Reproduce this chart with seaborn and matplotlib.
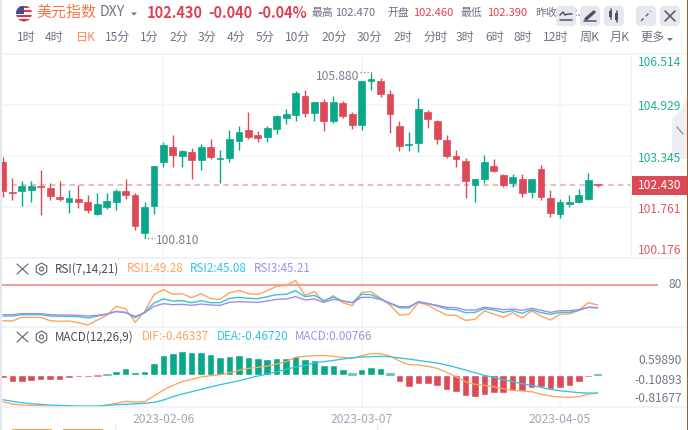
import matplotlib
matplotlib.use('Agg')
import matplotlib.pyplot as plt
import seaborn as sns
from matplotlib.patches import Circle, Rectangle, FancyBboxPatch, Polygon, RegularPolygon

# daily candles
opens = [103.16, 102.23, 102.26, 102.29, 102.41, 102.35, 102.07, 101.92, 102.01, 101.92, 101.54, 101.76, 101.92, 102.26, 102.13, 100.95,
         101.79, 103.16, 103.63, 103.35, 103.47, 103.22, 103.63, 103.25, 103.28, 103.81, 104.15, 104.00, 103.94, 104.18, 104.53, 104.62,
         105.21, 104.68, 105.02, 104.43, 104.99, 104.65, 104.31, 105.67, 105.67, 105.27, 104.28, 103.69, 103.75, 104.71, 104.43, 103.84,
         103.35, 103.19, 102.44, 102.63, 103.03, 102.76, 102.51, 102.63, 102.23, 102.94, 102.04, 101.54, 101.85, 101.92, 102.01, 102.46]
highs = [103.31, 102.66, 102.57, 102.57, 102.91, 102.51, 102.57, 102.29, 102.44, 102.13, 102.20, 102.20, 102.32, 102.63, 102.20, 101.92,
         103.03, 103.78, 104.00, 103.53, 103.59, 103.72, 103.87, 103.53, 104.15, 104.28, 104.71, 104.12, 104.28, 104.62, 104.81, 105.36,
         105.40, 105.02, 105.12, 105.21, 105.05, 104.71, 105.67, 105.88, 105.77, 105.40, 104.43, 104.09, 105.15, 104.77, 104.46, 104.00,
         103.53, 103.28, 102.63, 103.38, 103.25, 102.79, 102.79, 102.79, 102.63, 103.07, 102.29, 102.01, 102.13, 102.32, 102.82, 102.47]
lows = [102.07, 101.98, 101.79, 101.92, 101.51, 101.98, 101.95, 101.58, 101.73, 101.58, 101.51, 101.70, 101.67, 102.01, 101.05, 100.81,
        101.54, 103.00, 103.00, 103.00, 102.63, 102.91, 103.25, 102.51, 103.16, 103.53, 103.87, 103.78, 103.78, 104.03, 104.34, 104.43,
        104.56, 104.43, 104.12, 104.37, 104.53, 104.18, 104.15, 105.40, 105.18, 104.06, 103.50, 103.50, 103.47, 104.22, 103.72, 103.28,
        103.00, 102.04, 101.92, 102.51, 102.85, 102.38, 102.38, 102.07, 102.04, 101.98, 101.45, 101.42, 101.76, 101.89, 101.98, 102.39]
closes = [102.26, 102.21, 102.41, 102.41, 102.38, 102.10, 102.01, 102.04, 101.92, 101.67, 101.85, 101.95, 102.26, 102.13, 101.17, 101.76,
          103.03, 103.69, 103.38, 103.50, 103.22, 103.63, 103.31, 103.28, 103.87, 104.09, 103.94, 103.90, 104.22, 104.59, 104.65, 105.30,
          104.68, 105.02, 104.43, 105.02, 104.59, 104.31, 105.67, 105.74, 105.27, 104.65, 103.66, 103.72, 104.81, 104.49, 103.87, 103.35,
          103.25, 102.57, 102.63, 103.16, 102.88, 102.44, 102.69, 102.20, 102.63, 102.07, 101.57, 101.92, 101.92, 102.13, 102.60, 102.43]

rsi1 = [25.2, 24.7, 30.3, 30.3, 30.3, 25.2, 24.2, 24.7, 22.1, 18.6, 26.2, 33.4, 47.2, 43.6, 22.7, 39.1,
        65.2, 72.8, 65.7, 66.7, 60.5, 66.7, 59.0, 58.0, 68.2, 71.8, 66.7, 65.7, 71.3, 78.0, 79.5, 86.7,
        64.1, 69.8, 54.4, 63.6, 52.9, 48.3, 68.7, 69.8, 59.5, 49.3, 33.9, 35.0, 52.9, 49.3, 41.1, 33.9,
        33.4, 25.7, 27.3, 40.1, 35.5, 30.3, 37.5, 29.3, 40.1, 32.4, 26.2, 35.0, 35.5, 41.1, 52.9, 49.28]
rsi2 = [32.4, 32.4, 34.4, 34.4, 34.4, 32.4, 31.9, 31.9, 31.4, 29.3, 32.4, 35.0, 39.6, 38.0, 29.8, 38.0,
        52.3, 58.5, 55.4, 55.9, 52.9, 55.9, 52.9, 52.9, 59.5, 61.1, 59.5, 59.0, 62.1, 65.2, 65.7, 71.3,
        62.1, 64.1, 55.9, 61.6, 55.4, 52.9, 65.7, 65.2, 59.0, 51.8, 45.2, 44.7, 54.4, 51.8, 47.7, 43.1,
        42.1, 37.5, 38.0, 43.6, 41.6, 38.0, 40.6, 36.5, 42.1, 37.5, 35.0, 38.0, 38.0, 41.1, 45.7, 45.08]
rsi3 = [34.4, 34.4, 36.0, 36.0, 36.0, 34.4, 33.9, 33.9, 33.4, 32.4, 33.4, 35.5, 39.1, 37.5, 31.9, 37.0,
        47.2, 51.3, 49.8, 50.3, 48.8, 50.8, 49.3, 48.8, 53.4, 54.4, 53.9, 53.4, 55.4, 58.0, 58.5, 62.1,
        57.0, 58.5, 53.4, 58.0, 55.4, 52.9, 61.1, 61.1, 57.5, 52.3, 46.7, 46.7, 53.9, 51.3, 48.8, 45.7,
        45.2, 41.6, 41.6, 45.7, 44.2, 42.1, 43.1, 41.1, 44.2, 41.1, 38.0, 40.6, 40.6, 42.1, 45.7, 45.21]

dif = [-0.683, -0.742, -0.767, -0.776, -0.784, -0.801, -0.809, -0.809, -0.818, -0.818, -0.809, -0.767, -0.725, -0.674, -0.691, -0.683,
       -0.540, -0.388, -0.270, -0.177, -0.118, -0.059, -0.025, 0.0, 0.051, 0.110, 0.160, 0.185, 0.219, 0.270, 0.329, 0.438,
       0.464, 0.481, 0.489, 0.464, 0.438, 0.413, 0.481, 0.531, 0.531, 0.472, 0.346, 0.253, 0.244, 0.211, 0.160, 0.059,
       -0.051, -0.177, -0.244, -0.270, -0.303, -0.354, -0.396, -0.413, -0.430, -0.489, -0.540, -0.565, -0.573, -0.556, -0.489, -0.46337]
dea = [-0.632, -0.674, -0.708, -0.733, -0.750, -0.767, -0.776, -0.784, -0.792, -0.792, -0.792, -0.776, -0.759, -0.750, -0.733, -0.725,
       -0.700, -0.641, -0.556, -0.489, -0.430, -0.371, -0.312, -0.253, -0.202, -0.152, -0.093, -0.034, 0.017, 0.076, 0.135, 0.194,
       0.236, 0.303, 0.329, 0.362, 0.396, 0.430, 0.447, 0.455, 0.464, 0.455, 0.422, 0.396, 0.362, 0.329, 0.295, 0.244,
       0.185, 0.118, 0.051, -0.017, -0.067, -0.126, -0.177, -0.228, -0.270, -0.320, -0.371, -0.405, -0.430, -0.455, -0.464, -0.4672]
macd = [-0.09, -0.18, -0.19, -0.17, -0.135, -0.135, -0.126, -0.093, -0.067, -0.067, -0.034, 0.02, 0.10, 0.16, 0.067, 0.10,
        0.287, 0.489, 0.556, 0.60, 0.565, 0.573, 0.514, 0.455, 0.472, 0.489, 0.447, 0.413, 0.396, 0.413, 0.413, 0.464,
        0.405, 0.371, 0.244, 0.236, 0.143, 0.034, 0.143, 0.194, 0.16, 0.034, -0.177, -0.303, -0.236, -0.236, -0.295, -0.396,
        -0.447, -0.548, -0.573, -0.506, -0.464, -0.464, -0.405, -0.413, -0.329, -0.312, -0.362, -0.329, -0.278, -0.194, -0.067, 0.00766]

date_labels = ['2023-02-06', '2023-03-07', '2023-04-05']
date_idx = [17, 38, 59]
price_ticks = [100.176, 101.761, 103.345, 104.929, 106.514]
periods = [('1时', 17), ('4时', 45), ('日K', 76), ('15分', 105), ('1分', 140), ('2分', 169), ('3分', 198), ('4分', 227),
           ('5分', 256), ('10分', 285), ('20分', 321), ('30分', 357), ('2时', 393), ('分时', 423), ('3时', 456), ('6时', 485),
           ('8时', 514), ('12时', 543), ('周K', 580), ('月K', 610), ('更多', 640)]

GREEN = '#0aa88b'
RED = '#dd4a57'
ORANGE = '#ffa35c'
CYAN = '#35c4de'
PURPLE = '#a88be8'
GRID = '#f4f5f9'
GRAY = '#6f7385'

sns.set_theme(style='white')
plt.rcParams['font.family'] = ['Noto Sans CJK SC', 'DejaVu Sans']
plt.rcParams['axes.unicode_minus'] = False

W, H = 688, 430
fig = plt.figure(figsize=(W / 100, H / 100), dpi=100)


def px_axes(x0, y0, x1, y1):
    # axes placed by pixel box, y counted from the top
    a = fig.add_axes([x0 / W, 1 - y1 / H, (x1 - x0) / W, (y1 - y0) / H])
    a.set_xlim(-0.095, 66.53)
    a.patch.set_alpha(0)
    for s in a.spines.values():
        s.set_visible(False)
    a.set_xticks(date_idx)
    a.set_xticklabels([])
    a.tick_params(length=0)
    a.grid(True, color=GRID, lw=1.2)
    a.set_axisbelow(True)
    return a


idx = list(range(len(closes)))

# price panel
ax = px_axes(2, 54, 631, 258)
ax.set_ylim(price_ticks[0], price_ticks[-1])
ax.set_yticks(price_ticks)
ax.set_yticklabels([])
body_col = [GREEN if c >= o else RED for o, c in zip(opens, closes)]
ax.vlines(idx, lows, highs, colors=body_col, lw=1.0, zorder=3)
ax.bar(idx, [abs(c - o) for o, c in zip(opens, closes)], bottom=[min(o, c) for o, c in zip(opens, closes)],
       width=0.72, color=body_col, edgecolor=body_col, lw=0.5, zorder=4)
ax.axhline(closes[-1], color='#eea3a9', lw=1.1, dashes=(3.5, 2.8), zorder=2)

# RSI panel
ax2 = px_axes(2, 258, 631, 327)
ax2.set_ylim(15.5, 121.5)
ax2.set_yticks([])
ax2.hlines(80, -0.095, 69.4, color='#f49ea4', lw=1.5, clip_on=False)
for vals, col in [(rsi1, ORANGE), (rsi2, CYAN), (rsi3, PURPLE)]:
    sns.lineplot(x=idx, y=vals, color=col, lw=1.0, errorbar=None, ax=ax2)
ax2.set_xlabel('')

# MACD panel
ax3 = px_axes(2, 327, 631, 407)
ax3.set_ylim(-0.8168, 1.206)
ax3.set_yticks([])
sign = ['up' if v >= 0 else 'down' for v in macd]
sns.barplot(x=idx, y=macd, hue=sign, palette={'up': GREEN, 'down': RED}, native_scale=True, dodge=False,
            width=0.7, saturation=1, legend=False, ax=ax3, zorder=3)
# seaborn narrows the bars when hue is split, put them back to the picture's width
for p in ax3.patches:
    mid = p.get_x() + p.get_width() / 2
    p.set_width(0.8)
    p.set_x(mid - 0.4)
    # the near-zero bars still have to show as a dash
    if abs(p.get_height()) < 0.04:
        p.set_edgecolor(p.get_facecolor())
        p.set_linewidth(0.5)
        p.set_alpha(0.6)
ax3.set_xlim(-0.095, 66.53)
for vals, col in [(dif, ORANGE), (dea, CYAN)]:
    sns.lineplot(x=idx, y=vals, color=col, lw=0.95, errorbar=None, ax=ax3, zorder=5)
ax3.set_xlabel('')
ax3.set_xticks(date_idx)
ax3.set_xticklabels(date_labels, fontsize=8.7, color='#a3a6b8')
ax3.tick_params(axis='x', pad=4, length=0)

# overlay in pixel coordinates for the page furniture
ov = fig.add_axes([0, 0, 1, 1], zorder=10)
ov.set_xlim(0, W)
ov.set_ylim(H, 0)
ov.axis('off')
ov.patch.set_alpha(0)


def t(x, y, s, color=GRAY, size=8.6, ha='left', weight='normal', z=5):
    ov.text(x, y, s, color=color, fontsize=size, ha=ha, va='center', fontweight=weight, zorder=z)


ov.add_patch(Rectangle((0, 0), 2, H, color='#e6e9f2', lw=0))
ov.add_patch(Rectangle((686.8, 0), 1.2, H, color='#a85a20', lw=0))
for yy in [53.5, 258, 327, 407]:
    ov.plot([2, 686], [yy, yy], color='#eef0f5', lw=1.1, zorder=1)
ov.plot([631, 631], [54, 258], color='#f0f1f6', lw=1.1, zorder=1)
ov.plot([114.5, 114.5], [425, 430], color='#e6e8ee', lw=1)
ov.plot([376.5, 376.5], [425, 430], color='#e6e8ee', lw=1)
ov.add_patch(Rectangle((12, 428.5), 40, 2, color='#e8a545', lw=0))
ov.add_patch(Rectangle((63, 428.5), 40, 2, color='#e8a545', lw=0))

# flag
clip = Circle((24, 13.5), 8, transform=ov.transData)
for k in range(7):
    r = Rectangle((16, 5.5 + k * 2.3), 16, 2.3, color='#d6394a' if k % 2 == 0 else '#f7f0f0', lw=0)
    ov.add_patch(r)
    r.set_clip_path(clip)
r = Rectangle((16, 5.5), 8, 8, color='#3c4f8f', lw=0)
ov.add_patch(r)
r.set_clip_path(clip)

# header
t(36, 12.5, '美元指数', '#f5764a', 10.8)
t(100, 12.5, 'DXY', GRAY, 10.2)
ov.add_patch(Polygon([[131, 12.5], [137, 12.5], [134, 15.5]], color=GRAY, lw=0))
t(147, 12.5, '102.430', '#de4352', 10.5, weight='bold')
t(208, 12.5, '-0.040', '#de4352', 10.5, weight='bold')
t(257, 12.5, '-0.04%', '#de4352', 10.5, weight='bold')
t(312, 12.5, '最高', GRAY, 7.8)
t(335, 12.5, '102.470', GRAY, 8.0)
t(387, 12.5, '开盘', GRAY, 7.8)
t(413, 12.5, '102.460', '#e2404f', 8.0)
t(461, 12.5, '最低', GRAY, 7.8)
t(487, 12.5, '102.390', '#e2404f', 8.0)
t(535, 12.5, '昨收', GRAY, 7.8)
t(559, 12.5, '102.470', GRAY, 8.0)

for x0 in [556, 580, 604, 636, 660]:
    ov.add_patch(FancyBboxPatch((x0 + 3, 9), 14, 14, boxstyle='round,pad=3,rounding_size=4', fc='#e6e8f0', ec='none', zorder=7))
ic = dict(color='#4e5266', zorder=8, lw=1.1)
ov.plot([560, 563, 565, 568, 572], [15, 12, 15, 14, 14], **ic)
ov.plot([560, 572], [20, 20], **ic)
ov.plot([586, 594], [19, 12], color='#4e5266', lw=2.4, zorder=8)
ov.plot([584, 596], [20.5, 20.5], **ic)
ov.add_patch(Rectangle((609, 11), 3, 6, color='#4e5266', lw=0, zorder=8))
ov.add_patch(Rectangle((615, 13), 3, 7, color='#4e5266', lw=0, zorder=8))
ov.plot([610.5, 610.5], [9, 19], **ic)
ov.plot([616.5, 616.5], [11, 22], **ic)
ov.plot([641, 651], [21, 11], color='#4e5266', lw=0.9, zorder=8, ls=(0, (3, 2.4)))
ov.plot([665, 675], [11, 21], **ic)
ov.plot([665, 675], [21, 11], **ic)

for s, x in periods:
    t(x, 37.5, s, '#ff8a55' if s == '日K' else GRAY, 8.7)
ov.add_patch(Polygon([[667, 38], [673, 38], [670, 41]], color=GRAY, lw=0))

# price labels
for s, y, col in [('106.514', 62, '#1fb094'), ('104.929', 106, '#1fb094'), ('103.345', 158, '#1fb094'),
                  ('101.761', 209.5, '#df5a66'), ('100.176', 250, '#df5a66')]:
    t(638, y, s, col, 8.7)
ov.add_patch(Rectangle((632, 176), 54.5, 19, color=RED, lw=0, zorder=4))
t(638, 185.5, '102.430', 'white', 8.7, z=6)
ov.add_patch(Polygon([[672, 159], [687, 159], [687, 100], [680, 110], [672, 119]], color='#eceef2', lw=0, zorder=1))
ov.plot([677, 683], [127, 134], color='#8a8d9a', lw=0.9, zorder=2)

t(359, 76, '105.880', '#7c7f90', 8.7, ha='right')
ov.plot([360, 371], [72, 72], color='#7c7f90', lw=0.9, ls=(0, (1, 1.8)))
ov.plot([371, 371], [72, 75], color='#7c7f90', lw=0.8)
t(156, 241, '100.810', '#7c7f90', 8.7)
ov.plot([144, 155], [237.5, 237.5], color='#7c7f90', lw=0.9, ls=(0, (1, 1.8)))

# indicator headers
for yy in [269, 337]:
    ic2 = dict(color='#6c6f7e', lw=0.9)
    ov.plot([17, 28], [yy - 5, yy + 5], **ic2)
    ov.plot([17, 28], [yy + 5, yy - 5], **ic2)
    ov.add_patch(RegularPolygon((41.5, yy), 6, radius=6, fc='none', ec='#6c6f7e', lw=0.9))
    ov.add_patch(Circle((41.5, yy), 2, fc='none', ec='#6c6f7e', lw=0.9))
t(55, 269, 'RSI(7,14,21)', '#484b5a', 8.4)
t(127, 269, 'RSI1:49.28', ORANGE, 8.4)
t(190, 269, 'RSI2:45.08', CYAN, 8.4)
t(254, 269, 'RSI3:45.21', PURPLE, 8.4)
t(55, 337, 'MACD(12,26,9)', '#484b5a', 8.4)
t(142, 337, 'DIF:-0.46337', ORANGE, 8.4)
t(217, 337, 'DEA:-0.46720', CYAN, 8.4)
t(295, 337, 'MACD:0.00766', PURPLE, 8.4)

t(682, 285, '80', '#75788a', 8.7, ha='right')
t(682, 360.5, '0.59890', '#75788a', 8.7, ha='right')
t(682, 380, '-0.10893', '#75788a', 8.7, ha='right')
t(682, 398.7, '-0.81677', '#75788a', 8.7, ha='right')

fig.savefig('out.png', dpi=100, facecolor='white')
